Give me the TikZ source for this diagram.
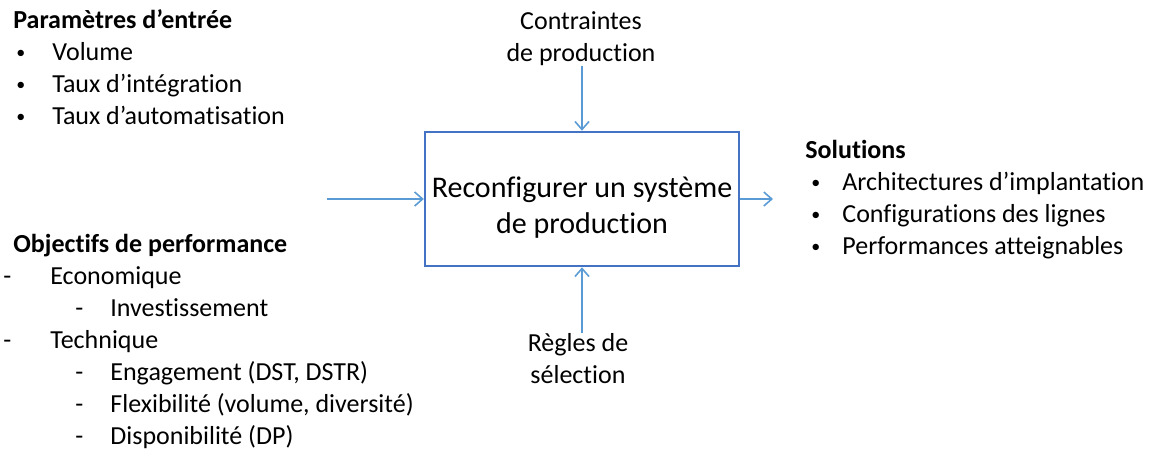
\documentclass[tikz,border=0pt]{standalone}
\usepackage{fontspec}
\setmainfont{Carlito}[Ligatures=NoCommon]
\usetikzlibrary{arrows.meta,positioning}
\tikzset{>={Straight Barb[length=4pt,width=7pt]}}
\definecolor{boxblue}{RGB}{68,114,196}
\definecolor{arrowblue}{RGB}{91,155,213}
\newcommand{\puce}{{\fontsize{9}{9}\selectfont\raisebox{0.6pt}{•}}}

\begin{document}
\begin{tikzpicture}[x=0.5pt,y=-0.5pt,
    txt/.style={anchor=base west,inner sep=0pt,font=\fontsize{13}{16}\selectfont},
    head/.style={txt,font=\fontsize{13}{16}\selectfont\bfseries},
    ctr/.style={inner sep=0pt,align=center,font=\fontsize{13}{16}\selectfont},
    flow/.style={->,arrowblue,line width=0.8pt}]
    \useasboundingbox (0,0) rectangle (1157,451);
    % entrees
    \node[head] (param) at (13,28) {Paramètres d’entrée};
    \foreach \t [count=\i] in {Volume, Taux d’intégration, Taux d’automatisation}
    \node[txt] (param\i) at (16,28+32*\i) {\makebox[18pt][l]{\puce}\t};
    % objectifs
    \node[head] (obj) at (13,252) {Objectifs de performance};
    \node[txt] (eco) at (3,284) {\makebox[23.5pt][l]{-}Economique};
    \node[txt] (inv) at (75,316) {\makebox[17.5pt][l]{-}Investissement};
    \node[txt] (tech) at (3,348) {\makebox[23.5pt][l]{-}Technique};
    \foreach \t [count=\i] in {{Engagement (DST, DSTR)}, {Flexibilité (volume, diversité)}, {Disponibilité (DP)}}
    \node[txt] (tech\i) at (75,348+32*\i) {\makebox[17.5pt][l]{-}\t};
    % boite centrale
    \node[draw=boxblue, line width=1.3pt, minimum width=156pt, minimum height=67pt,
        align=center, font=\fontsize{15}{18}\selectfont] (sys) at (582,199)
        {\rule{0pt}{19pt}Reconfigurer un système\\de production};
    \node[ctr] (contr) at (581,39) {Contraintes\\de production};
    \node[ctr] (regles) at (578,359) {Règles de\\sélection};
    % solutions
    \node[head] (sol) at (805,158) {Solutions};
    \foreach \t [count=\i] in {Architectures d’implantation, Configurations des lignes, Performances atteignables}
    \node[txt] (sol\i) at (811,158+32*\i) {\makebox[15.5pt][l]{\puce}\t};
    % fleches
    \coordinate (inL) at (327,199);
    \coordinate (outR) at (773,199);
    \draw[flow] (inL) -- (sys.west);
    \draw[flow] (sys.east) -- (outR);
    \draw[flow] (sys.north |- contr.south) -- (sys.north);
    \draw[flow] (sys.south |- regles.north) -- (sys.south);
\end{tikzpicture}
\end{document}
